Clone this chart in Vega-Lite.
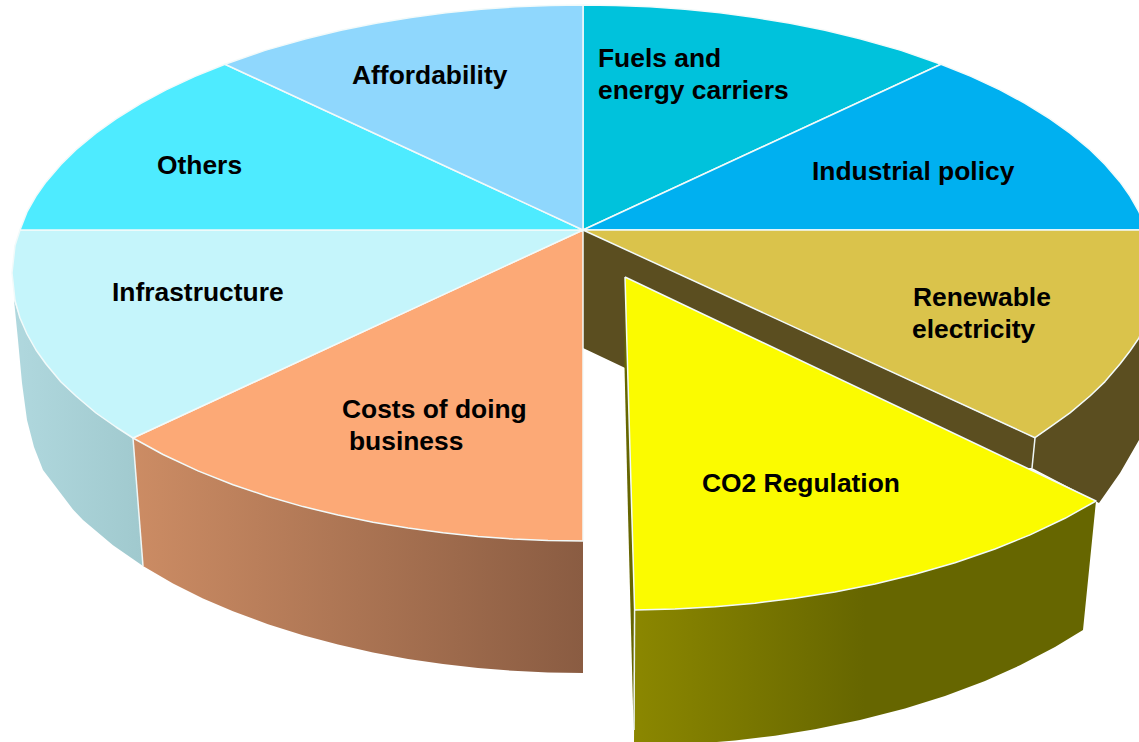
{"$schema":"https://vega.github.io/schema/vega-lite/v6.json","autosize":{"type":"fit","contains":"padding"},"width":1139,"height":742,"padding":0,"background":"white","config":{"view":{"stroke":null}},
"datasets":{"outline":[
{"p":"wallCyan","i":0,"x":14,"y":300},{"p":"wallCyan","i":1,"x":20,"y":318},{"p":"wallCyan","i":2,"x":27,"y":334},{"p":"wallCyan","i":3,"x":36,"y":350},{"p":"wallCyan","i":4,"x":46,"y":364},{"p":"wallCyan","i":5,"x":61,"y":382},{"p":"wallCyan","i":6,"x":76,"y":396},{"p":"wallCyan","i":7,"x":96,"y":413},{"p":"wallCyan","i":8,"x":116,"y":427},{"p":"wallCyan","i":9,"x":133,"y":438},{"p":"wallCyan","i":10,"x":143,"y":566},{"p":"wallCyan","i":11,"x":113,"y":545.3},{"p":"wallCyan","i":12,"x":83,"y":520},{"p":"wallCyan","i":13,"x":73,"y":509.5},{"p":"wallCyan","i":14,"x":43,"y":470},{"p":"wallCyan","i":15,"x":34,"y":447},{"p":"wallCyan","i":16,"x":27,"y":420},{"p":"wallCyan","i":17,"x":22,"y":383},{"p":"wallCyan","i":18,"x":18,"y":340},{"p":"wallCyan","i":19,"x":14,"y":300},
{"p":"wallOrange","i":0,"x":133,"y":438},{"p":"wallOrange","i":1,"x":163,"y":454.5},{"p":"wallOrange","i":2,"x":198,"y":470.9},{"p":"wallOrange","i":3,"x":233,"y":484.7},{"p":"wallOrange","i":4,"x":268,"y":496.5},{"p":"wallOrange","i":5,"x":303,"y":506.6},{"p":"wallOrange","i":6,"x":338,"y":515},{"p":"wallOrange","i":7,"x":373,"y":522.2},{"p":"wallOrange","i":8,"x":408,"y":528.1},{"p":"wallOrange","i":9,"x":443,"y":532.8},{"p":"wallOrange","i":10,"x":478,"y":536.4},{"p":"wallOrange","i":11,"x":513,"y":539},{"p":"wallOrange","i":12,"x":548,"y":540.5},{"p":"wallOrange","i":13,"x":583,"y":541},{"p":"wallOrange","i":14,"x":583,"y":673},{"p":"wallOrange","i":15,"x":548,"y":672.5},{"p":"wallOrange","i":16,"x":513,"y":670.8},{"p":"wallOrange","i":17,"x":478,"y":668},{"p":"wallOrange","i":18,"x":443,"y":664},{"p":"wallOrange","i":19,"x":408,"y":658.9},{"p":"wallOrange","i":20,"x":373,"y":652.4},{"p":"wallOrange","i":21,"x":338,"y":644.6},{"p":"wallOrange","i":22,"x":303,"y":635.3},{"p":"wallOrange","i":23,"x":268,"y":624.3},{"p":"wallOrange","i":24,"x":233,"y":611.3},{"p":"wallOrange","i":25,"x":203,"y":598.4},{"p":"wallOrange","i":26,"x":173,"y":583.5},{"p":"wallOrange","i":27,"x":143,"y":566},{"p":"wallOrange","i":28,"x":133,"y":438},
{"p":"wallInner","i":0,"x":583,"y":230},{"p":"wallInner","i":1,"x":1035,"y":438},{"p":"wallInner","i":2,"x":1032,"y":468},{"p":"wallInner","i":3,"x":800,"y":470},{"p":"wallInner","i":4,"x":640,"y":375},{"p":"wallInner","i":5,"x":583,"y":348},{"p":"wallInner","i":6,"x":583,"y":230},
{"p":"wallOuter","i":0,"x":1035,"y":438},{"p":"wallOuter","i":1,"x":1050,"y":427},{"p":"wallOuter","i":2,"x":1070,"y":413},{"p":"wallOuter","i":3,"x":1090,"y":396},{"p":"wallOuter","i":4,"x":1105,"y":381.6},{"p":"wallOuter","i":5,"x":1120,"y":364},{"p":"wallOuter","i":6,"x":1130,"y":351},{"p":"wallOuter","i":7,"x":1139,"y":338},{"p":"wallOuter","i":8,"x":1150,"y":306},{"p":"wallOuter","i":9,"x":1150,"y":425},{"p":"wallOuter","i":10,"x":1139,"y":440},{"p":"wallOuter","i":11,"x":1120,"y":473},{"p":"wallOuter","i":12,"x":1099,"y":503},{"p":"wallOuter","i":13,"x":1032,"y":468},{"p":"wallOuter","i":14,"x":1035,"y":438},
{"p":"wallYellow","i":0,"x":634.6,"y":610},{"p":"wallYellow","i":1,"x":675,"y":609},{"p":"wallYellow","i":2,"x":715,"y":606.8},{"p":"wallYellow","i":3,"x":755,"y":603.2},{"p":"wallYellow","i":4,"x":795,"y":598.3},{"p":"wallYellow","i":5,"x":835,"y":591.9},{"p":"wallYellow","i":6,"x":875,"y":584},{"p":"wallYellow","i":7,"x":915,"y":574.3},{"p":"wallYellow","i":8,"x":955,"y":562.8},{"p":"wallYellow","i":9,"x":995,"y":549},{"p":"wallYellow","i":10,"x":1030,"y":534.9},{"p":"wallYellow","i":11,"x":1065,"y":518.3},{"p":"wallYellow","i":12,"x":1096,"y":501},{"p":"wallYellow","i":13,"x":1083,"y":630},{"p":"wallYellow","i":14,"x":1055,"y":647.1},{"p":"wallYellow","i":15,"x":1020,"y":665.3},{"p":"wallYellow","i":16,"x":985,"y":680.9},{"p":"wallYellow","i":17,"x":945,"y":695.9},{"p":"wallYellow","i":18,"x":905,"y":708.4},{"p":"wallYellow","i":19,"x":860,"y":720},{"p":"wallYellow","i":20,"x":815,"y":729.3},{"p":"wallYellow","i":21,"x":775,"y":735.7},{"p":"wallYellow","i":22,"x":735,"y":740.5},{"p":"wallYellow","i":23,"x":695,"y":743.8},{"p":"wallYellow","i":24,"x":655,"y":745.6},{"p":"wallYellow","i":25,"x":634,"y":746},{"p":"wallYellow","i":26,"x":634.6,"y":610},
{"p":"sliver","i":0,"x":625,"y":277},{"p":"sliver","i":1,"x":634.6,"y":610},{"p":"sliver","i":2,"x":634,"y":730},{"p":"sliver","i":3,"x":633,"y":707},{"p":"sliver","i":4,"x":628,"y":513},{"p":"sliver","i":5,"x":624.5,"y":367},{"p":"sliver","i":6,"x":625,"y":277},
{"p":"div1","i":0,"x":133,"y":438},{"p":"div1","i":1,"x":143,"y":566},
{"p":"div2","i":0,"x":1035,"y":438},{"p":"div2","i":1,"x":1032,"y":468},
{"p":"div3","i":0,"x":634.6,"y":610},{"p":"div3","i":1,"x":634,"y":730},
{"p":"Fuels","i":0,"x":583,"y":230},{"p":"Fuels","i":1,"x":583,"y":5},{"p":"Fuels","i":2,"x":616,"y":5.5},{"p":"Fuels","i":3,"x":650,"y":6.8},{"p":"Fuels","i":4,"x":685,"y":9.3},{"p":"Fuels","i":5,"x":720,"y":12.8},{"p":"Fuels","i":6,"x":755,"y":17.5},{"p":"Fuels","i":7,"x":790,"y":23.2},{"p":"Fuels","i":8,"x":825,"y":30.3},{"p":"Fuels","i":9,"x":860,"y":38.7},{"p":"Fuels","i":10,"x":901,"y":50.4},{"p":"Fuels","i":11,"x":941,"y":64.2},{"p":"Fuels","i":12,"x":583,"y":230},
{"p":"Industrial","i":0,"x":583,"y":230},{"p":"Industrial","i":1,"x":941,"y":64.2},{"p":"Industrial","i":2,"x":971,"y":76.4},{"p":"Industrial","i":3,"x":1000,"y":89.9},{"p":"Industrial","i":4,"x":1025,"y":103.3},{"p":"Industrial","i":5,"x":1050,"y":118.8},{"p":"Industrial","i":6,"x":1070,"y":133.1},{"p":"Industrial","i":7,"x":1090,"y":149.7},{"p":"Industrial","i":8,"x":1105,"y":164.4},{"p":"Industrial","i":9,"x":1120,"y":181.9},{"p":"Industrial","i":10,"x":1130,"y":196.1},{"p":"Industrial","i":11,"x":1139,"y":211.9},{"p":"Industrial","i":12,"x":1146,"y":230},{"p":"Industrial","i":13,"x":583,"y":230},
{"p":"Renewable","i":0,"x":583,"y":230},{"p":"Renewable","i":1,"x":1146,"y":230},{"p":"Renewable","i":2,"x":1151,"y":245.5},{"p":"Renewable","i":3,"x":1154,"y":273},{"p":"Renewable","i":4,"x":1151,"y":300.5},{"p":"Renewable","i":5,"x":1146,"y":318},{"p":"Renewable","i":6,"x":1139,"y":338},{"p":"Renewable","i":7,"x":1130,"y":351},{"p":"Renewable","i":8,"x":1120,"y":364},{"p":"Renewable","i":9,"x":1105,"y":381.6},{"p":"Renewable","i":10,"x":1090,"y":396},{"p":"Renewable","i":11,"x":1070,"y":412.9},{"p":"Renewable","i":12,"x":1050,"y":427.2},{"p":"Renewable","i":13,"x":1035,"y":437.7},{"p":"Renewable","i":14,"x":583,"y":230},
{"p":"CO2","i":0,"x":625,"y":277},{"p":"CO2","i":1,"x":1096,"y":501},{"p":"CO2","i":2,"x":1065,"y":518.3},{"p":"CO2","i":3,"x":1030,"y":534.9},{"p":"CO2","i":4,"x":995,"y":549},{"p":"CO2","i":5,"x":955,"y":562.8},{"p":"CO2","i":6,"x":915,"y":574.3},{"p":"CO2","i":7,"x":875,"y":584},{"p":"CO2","i":8,"x":835,"y":591.9},{"p":"CO2","i":9,"x":795,"y":598.3},{"p":"CO2","i":10,"x":755,"y":603.2},{"p":"CO2","i":11,"x":715,"y":606.8},{"p":"CO2","i":12,"x":675,"y":609},{"p":"CO2","i":13,"x":634.6,"y":610},{"p":"CO2","i":14,"x":625,"y":277},
{"p":"Costs","i":0,"x":583,"y":230},{"p":"Costs","i":1,"x":583,"y":541},{"p":"Costs","i":2,"x":548,"y":540.5},{"p":"Costs","i":3,"x":513,"y":539},{"p":"Costs","i":4,"x":478,"y":536.4},{"p":"Costs","i":5,"x":443,"y":532.8},{"p":"Costs","i":6,"x":408,"y":528.1},{"p":"Costs","i":7,"x":373,"y":522.2},{"p":"Costs","i":8,"x":338,"y":515},{"p":"Costs","i":9,"x":303,"y":506.6},{"p":"Costs","i":10,"x":268,"y":496.5},{"p":"Costs","i":11,"x":233,"y":484.7},{"p":"Costs","i":12,"x":198,"y":470.9},{"p":"Costs","i":13,"x":163,"y":454.5},{"p":"Costs","i":14,"x":133,"y":438},{"p":"Costs","i":15,"x":583,"y":230},
{"p":"Infra","i":0,"x":583,"y":230},{"p":"Infra","i":1,"x":133,"y":438},{"p":"Infra","i":2,"x":116,"y":427},{"p":"Infra","i":3,"x":96,"y":413},{"p":"Infra","i":4,"x":76,"y":396},{"p":"Infra","i":5,"x":61,"y":382},{"p":"Infra","i":6,"x":46,"y":364},{"p":"Infra","i":7,"x":36,"y":350},{"p":"Infra","i":8,"x":27,"y":334},{"p":"Infra","i":9,"x":20,"y":318},{"p":"Infra","i":10,"x":15,"y":300.5},{"p":"Infra","i":11,"x":12,"y":273},{"p":"Infra","i":12,"x":15,"y":245.5},{"p":"Infra","i":13,"x":20,"y":230},{"p":"Infra","i":14,"x":583,"y":230},
{"p":"Others","i":0,"x":583,"y":230},{"p":"Others","i":1,"x":20,"y":230},{"p":"Others","i":2,"x":27,"y":211.9},{"p":"Others","i":3,"x":36,"y":196.1},{"p":"Others","i":4,"x":46,"y":181.9},{"p":"Others","i":5,"x":61,"y":164.4},{"p":"Others","i":6,"x":76,"y":149.7},{"p":"Others","i":7,"x":96,"y":133.1},{"p":"Others","i":8,"x":116,"y":118.8},{"p":"Others","i":9,"x":141,"y":103.3},{"p":"Others","i":10,"x":166,"y":89.9},{"p":"Others","i":11,"x":195,"y":76.4},{"p":"Others","i":12,"x":225,"y":64.2},{"p":"Others","i":13,"x":583,"y":230},
{"p":"Afford","i":0,"x":583,"y":230},{"p":"Afford","i":1,"x":225,"y":64.2},{"p":"Afford","i":2,"x":265,"y":50.4},{"p":"Afford","i":3,"x":306,"y":38.7},{"p":"Afford","i":4,"x":341,"y":30.3},{"p":"Afford","i":5,"x":376,"y":23.2},{"p":"Afford","i":6,"x":411,"y":17.5},{"p":"Afford","i":7,"x":446,"y":12.8},{"p":"Afford","i":8,"x":481,"y":9.3},{"p":"Afford","i":9,"x":516,"y":6.8},{"p":"Afford","i":10,"x":550,"y":5.5},{"p":"Afford","i":11,"x":583,"y":5},{"p":"Afford","i":12,"x":583,"y":230}
],
"labels":[
{"label":"Affordability","x":352,"y":76},{"label":"Fuels and","x":598,"y":59},{"label":"energy carriers","x":598,"y":91},{"label":"Industrial policy","x":812,"y":172},{"label":"Renewable","x":913,"y":298},{"label":"electricity","x":912,"y":330},{"label":"CO2 Regulation","x":702,"y":484},{"label":"Costs of doing","x":342,"y":410},{"label":"business","x":349,"y":442},{"label":"Infrastructure","x":112,"y":293},{"label":"Others","x":157,"y":166}
]},
"encoding":{"x":{"field":"x","type":"quantitative","axis":null,"scale":{"domain":[0,1139],"nice":false,"zero":false}},"y":{"field":"y","type":"quantitative","axis":null,"scale":{"domain":[742,0],"nice":false,"zero":false}}},
"layer":[
{"data":{"name":"outline"},"transform":[{"filter":"datum.p==='wallCyan'"}],"mark":{"type":"line","clip":true,"strokeWidth":0,"fill":{"gradient":"linear","x1":0,"x2":1,"y1":0,"y2":0,"stops":[{"offset":0,"color":"#B0D8DE"},{"offset":1,"color":"#A0C9CE"}]}},"encoding":{"order":{"field":"i"}}},
{"data":{"name":"outline"},"transform":[{"filter":"datum.p==='wallOrange'"}],"mark":{"type":"line","clip":true,"strokeWidth":0,"fill":{"gradient":"linear","x1":0,"x2":1,"y1":0,"y2":0,"stops":[{"offset":0,"color":"#CC8C64"},{"offset":1,"color":"#8A5C42"}]}},"encoding":{"order":{"field":"i"}}},
{"data":{"name":"outline"},"transform":[{"filter":"datum.p==='wallInner'"}],"mark":{"type":"line","clip":true,"strokeWidth":0,"fill":"#5B4E20"},"encoding":{"order":{"field":"i"}}},
{"data":{"name":"outline"},"transform":[{"filter":"datum.p==='wallOuter'"}],"mark":{"type":"line","clip":true,"strokeWidth":0,"fill":"#5B4E20"},"encoding":{"order":{"field":"i"}}},
{"data":{"name":"outline"},"transform":[{"filter":"datum.p==='wallYellow'"}],"mark":{"type":"line","clip":true,"strokeWidth":0,"fill":{"gradient":"linear","x1":0,"x2":1,"y1":0,"y2":0,"stops":[{"offset":0,"color":"#8B8700"},{"offset":0.5,"color":"#666600"},{"offset":1,"color":"#666600"}]}},"encoding":{"order":{"field":"i"}}},
{"data":{"name":"outline"},"transform":[{"filter":"datum.p==='sliver'"}],"mark":{"type":"line","clip":true,"strokeWidth":0,"fill":"#666600"},"encoding":{"order":{"field":"i"}}},
{"data":{"name":"outline"},"transform":[{"filter":"datum.p==='div1'"}],"mark":{"type":"line","clip":true,"strokeWidth":1.5,"color":"#EEF6F6"},"encoding":{"order":{"field":"i"}}},
{"data":{"name":"outline"},"transform":[{"filter":"datum.p==='div2'"}],"mark":{"type":"line","clip":true,"strokeWidth":1.5,"color":"#EEF6F6"},"encoding":{"order":{"field":"i"}}},
{"data":{"name":"outline"},"transform":[{"filter":"datum.p==='div3'"}],"mark":{"type":"line","clip":true,"strokeWidth":1.5,"color":"#EEF6F6"},"encoding":{"order":{"field":"i"}}},
{"data":{"name":"outline"},"transform":[{"filter":"datum.p==='Fuels'"}],"mark":{"type":"line","clip":true,"strokeWidth":1.5,"stroke":"#F2FAFA","fill":"#00C2DC","strokeJoin":"round"},"encoding":{"order":{"field":"i"}}},
{"data":{"name":"outline"},"transform":[{"filter":"datum.p==='Industrial'"}],"mark":{"type":"line","clip":true,"strokeWidth":1.5,"stroke":"#F2FAFA","fill":"#00B0F0","strokeJoin":"round"},"encoding":{"order":{"field":"i"}}},
{"data":{"name":"outline"},"transform":[{"filter":"datum.p==='Renewable'"}],"mark":{"type":"line","clip":true,"strokeWidth":1.5,"stroke":"#F2FAFA","fill":"#DAC34B","strokeJoin":"round"},"encoding":{"order":{"field":"i"}}},
{"data":{"name":"outline"},"transform":[{"filter":"datum.p==='CO2'"}],"mark":{"type":"line","clip":true,"strokeWidth":1.5,"stroke":"#F2FAFA","fill":"#FBFB00","strokeJoin":"round"},"encoding":{"order":{"field":"i"}}},
{"data":{"name":"outline"},"transform":[{"filter":"datum.p==='Costs'"}],"mark":{"type":"line","clip":true,"strokeWidth":1.5,"stroke":"#F2FAFA","fill":"#FCA976","strokeJoin":"round"},"encoding":{"order":{"field":"i"}}},
{"data":{"name":"outline"},"transform":[{"filter":"datum.p==='Infra'"}],"mark":{"type":"line","clip":true,"strokeWidth":1.5,"stroke":"#F2FAFA","fill":"#C5F5FB","strokeJoin":"round"},"encoding":{"order":{"field":"i"}}},
{"data":{"name":"outline"},"transform":[{"filter":"datum.p==='Others'"}],"mark":{"type":"line","clip":true,"strokeWidth":1.5,"stroke":"#F2FAFA","fill":"#4EEBFF","strokeJoin":"round"},"encoding":{"order":{"field":"i"}}},
{"data":{"name":"outline"},"transform":[{"filter":"datum.p==='Afford'"}],"mark":{"type":"line","clip":true,"strokeWidth":1.5,"stroke":"#F2FAFA","fill":"#8FD7FD","strokeJoin":"round"},"encoding":{"order":{"field":"i"}}},
{"data":{"name":"labels"},"mark":{"type":"text","align":"left","baseline":"middle","font":"Liberation Sans","fontWeight":"bold","fontSize":26.4,"color":"#000000"},"encoding":{"text":{"field":"label","type":"nominal"}}}
]}
